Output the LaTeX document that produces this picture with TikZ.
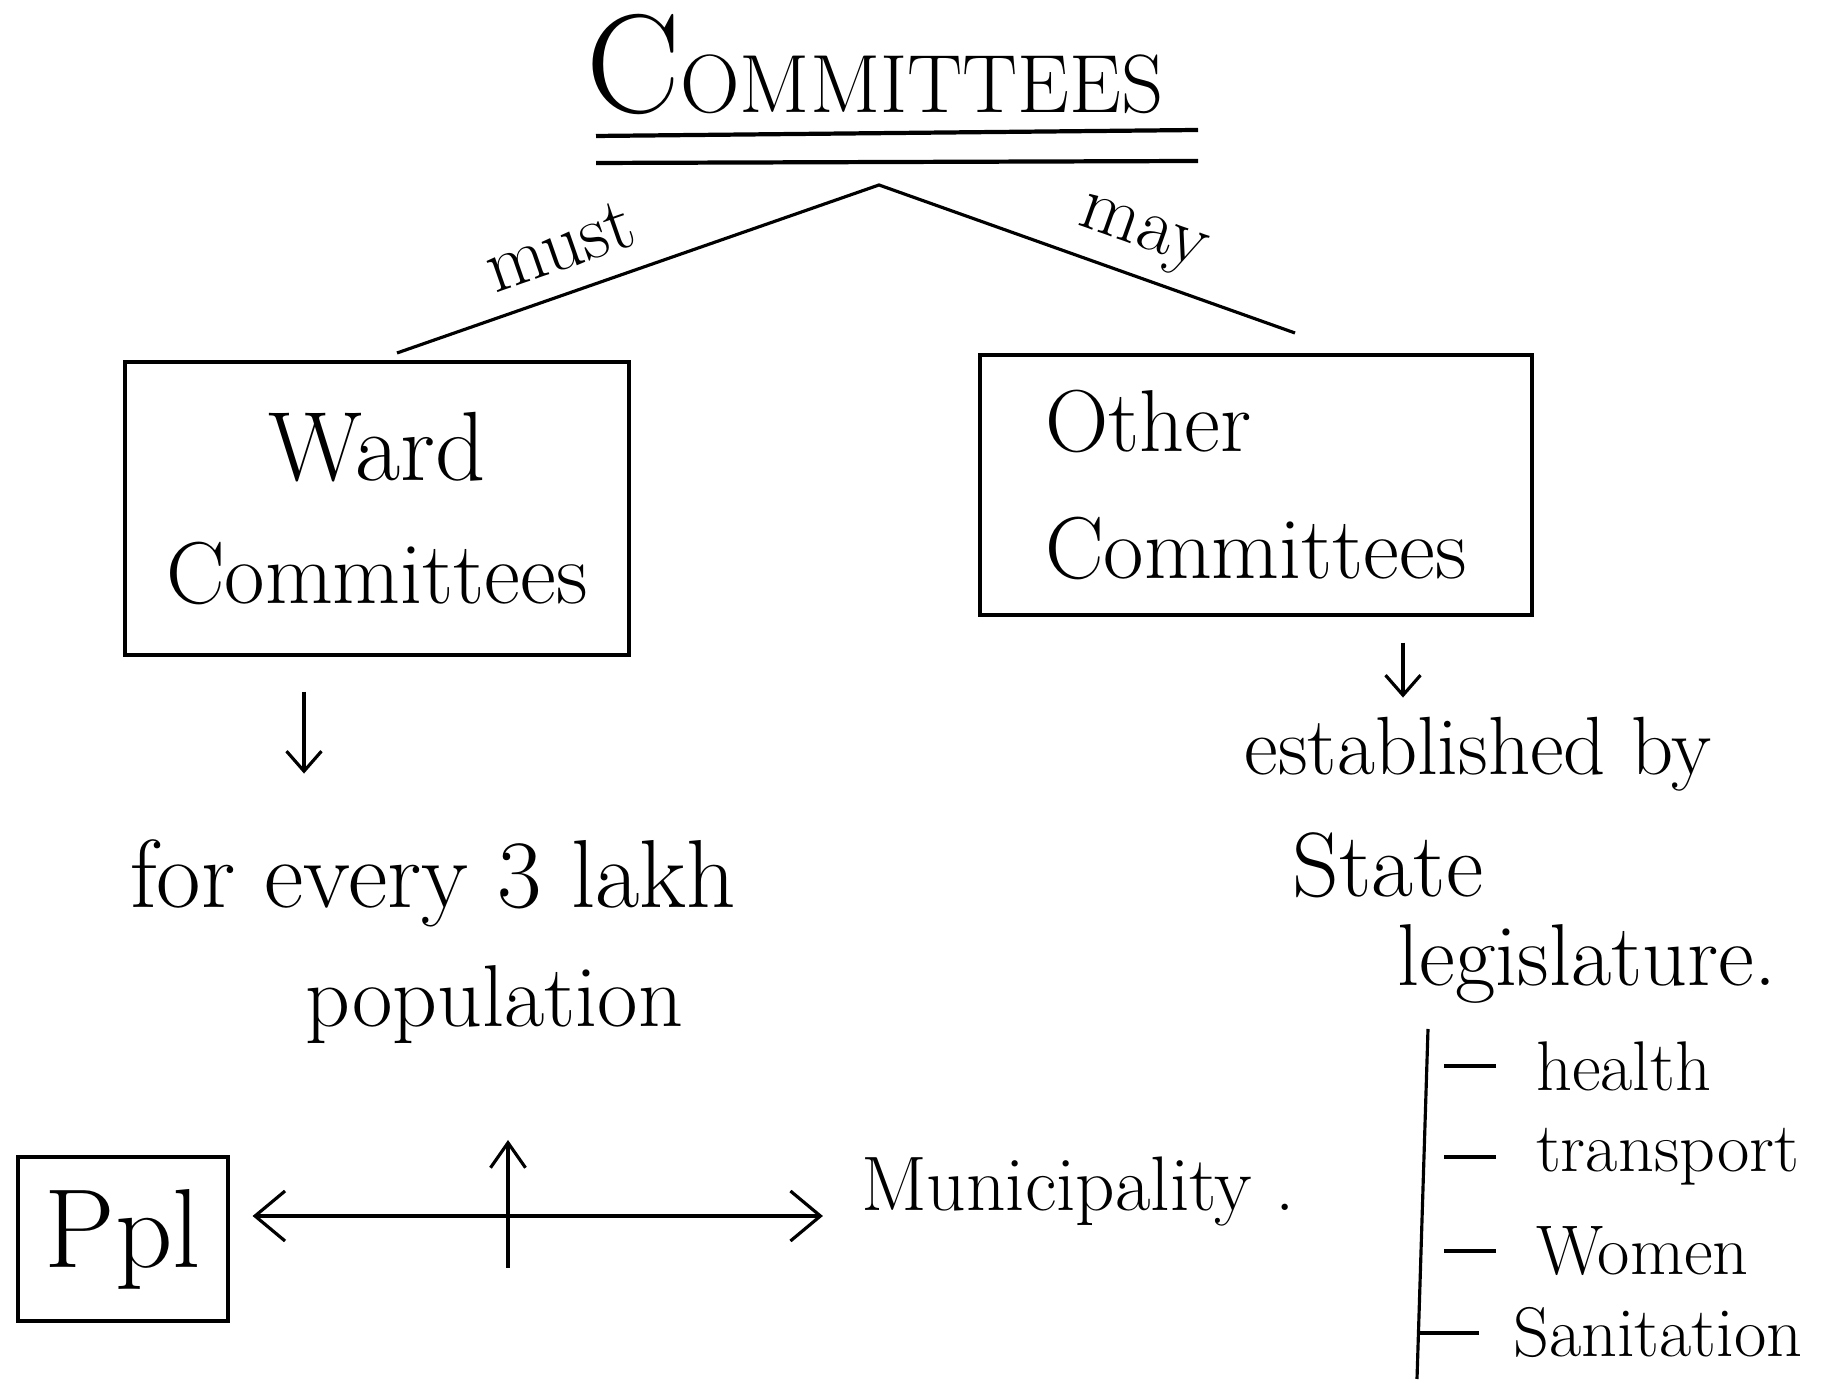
\documentclass[tikz,border=0pt]{standalone}
\usepackage{tikz}
\usetikzlibrary{arrows.meta}

\begin{document}
\begin{tikzpicture}[x=1cm,y=1cm,line width=.9pt,
  box/.style={draw,inner sep=0pt},
  txt/.style={inner sep=1pt},
  >={Straight Barb[length=2.5mm,width=4.5mm]}]
\useasboundingbox (0,0) rectangle (18.33,13.83);
\node[anchor=base west,inner sep=0pt] (title) at (5.85,12.70) {\fontsize{40}{40}\selectfont C\fontsize{23.5}{23.5}\selectfont OMMITTEES};
\draw[line width=1.2pt] (5.96,12.47)--(11.98,12.53);
\draw[line width=1.2pt] (5.96,12.20)--(11.98,12.22);
\coordinate (apex) at (8.79,11.98);
\coordinate (wardtop) at (3.97,10.30);
\coordinate (othertop) at (12.95,10.50);
\draw (wardtop) -- node[sloped,above=1mm,pos=.37,font=\fontsize{22}{22}\selectfont] {must} (apex)
  -- node[sloped,above=0mm,pos=.6,font=\fontsize{22}{22}\selectfont] {may} (othertop);
\node[box,minimum width=5.04cm,minimum height=2.93cm,align=center,font=\fontsize{25}{35}\selectfont] (ward) at (3.77,8.745) {{\fontsize{28}{28}\selectfont Ward}\\Committees};
\node[box,minimum width=5.52cm,minimum height=2.60cm,align=left,font=\fontsize{25}{36}\selectfont] (other) at (12.56,8.98) {Other\\Committees};
\draw[->,>={Straight Barb[length=2mm,width=3.5mm]}] ([xshift=-7.3mm,yshift=-3.5mm]ward.south) -- ++(0,-8.2mm);
\draw[->,>={Straight Barb[length=2mm,width=3.5mm]}] ([xshift=14.7mm,yshift=-2.6mm]other.south) -- ++(0,-5.5mm);
\node[txt,font=\fontsize{27.5}{27.5}\selectfont] (lakh) at (4.33,5.00) {for every 3 lakh};
\node[txt,font=\fontsize{25}{25}\selectfont] (popn) at (4.94,3.78) {population};
\node[box,minimum width=2.10cm,minimum height=1.64cm,font=\fontsize{32}{32}\selectfont] (ppl) at (1.23,1.44) {Ppl};
\node[txt,font=\fontsize{22}{22}\selectfont] (muni) at (10.78,1.91) {Municipality .};
\coordinate (cross) at (5.08,1.67);
\draw[<->,>={Straight Barb[length=3mm,width=5mm]},shorten <=2.3mm,shorten >=3.3mm] (ppl.east |- cross) -- (muni.west |- cross);
\draw[->,>={Straight Barb[length=2.5mm,width=3.5mm]}] ([yshift=-5.2mm]cross) -- ([yshift=7.6mm]cross);
\node[txt,font=\fontsize{23.5}{23.5}\selectfont] (estab) at (14.78,6.29) {established by};
\node[txt,font=\fontsize{26}{26}\selectfont] (state) at (13.88,5.18) {State};
\node[txt,font=\fontsize{25}{25}\selectfont] (legis) at (15.87,4.19) {legislature.};
\coordinate (brtop) at (14.28,3.54);
\coordinate (brbot) at (14.17,0.04);
\draw (brtop) -- (brbot);
\node[txt,anchor=west,font=\fontsize{20}{20}\selectfont] (health) at (15.31,3.17) {health};
\node[txt,anchor=west,font=\fontsize{20}{20}\selectfont] (transport) at (15.31,2.26) {transport};
\node[txt,anchor=west,font=\fontsize{20}{20}\selectfont] (women) at (15.31,1.32) {Women};
\node[txt,anchor=west,font=\fontsize{20}{20}\selectfont] (sanit) at (15.08,0.50) {Sanitation};
\foreach \n in {health,transport,women}
  \draw ([xshift=-3.5mm]\n.west) -- ++(-5.2mm,0);
\draw ([xshift=-2.9mm]sanit.west) -- (sanit.west -| brbot);
\end{tikzpicture}
\end{document}
